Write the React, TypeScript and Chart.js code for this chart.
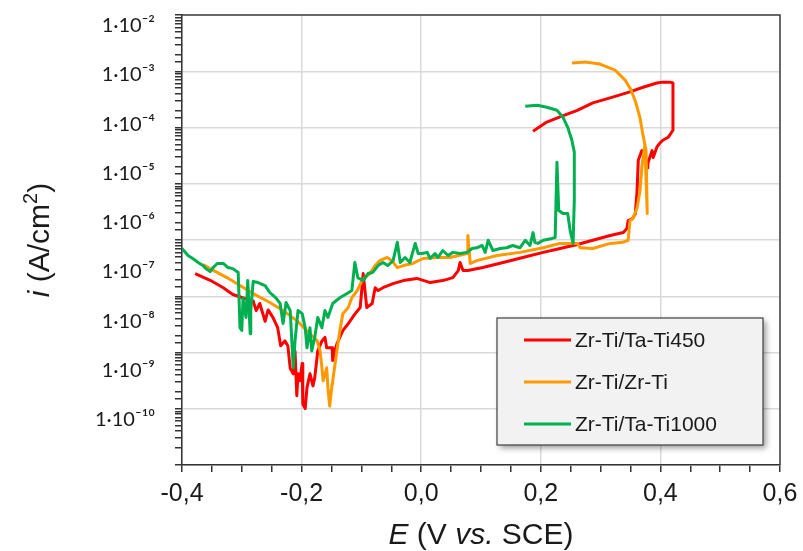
import React, { useEffect, useRef } from "react";
import { Chart, registerables } from "chart.js";

Chart.register(...registerables);

// ---------- data ----------
const seriesNames = ["Zr-Ti/Ta-Ti450", "Zr-Ti/Zr-Ti", "Zr-Ti/Ta-Ti1000"];
const seriesColors = ["#ff0000", "#ff9900", "#00b050"];

// Zr-Ti/Ta-Ti450 : potential (V vs. SCE) and current density (A/cm2)
const redE = [-0.378,-0.352,-0.331,-0.315,-0.295,-0.281,-0.276,-0.270,-0.261,-0.256,
  -0.248,-0.240,-0.235,-0.228,-0.223,-0.219,-0.214,-0.211,-0.208,-0.206,
  -0.203,-0.199,-0.198,-0.194,-0.191,-0.186,-0.181,-0.178,-0.173,-0.166,
  -0.161,-0.158,-0.149,-0.148,-0.141,-0.131,-0.122,-0.111,-0.102,-0.097,
  -0.091,-0.082,-0.077,-0.072,-0.064,-0.047,-0.030,-0.007,0.015,0.036,
  0.053,0.062,0.065,0.070,0.078,0.103,0.137,0.170,0.204,0.227,
  0.261,0.287,0.316,0.338,0.344,0.346,0.353,0.358,0.361,0.363,
  0.369,0.374,0.378,0.379,0.386,0.388,0.394,0.399,0.404,0.413,
  0.421,0.421,0.416,0.404,0.394,0.371,0.349,0.316,0.287,0.261,
  0.232,0.210,0.187];
const redI = [9.3e-8,6.7e-8,4.8e-8,3.5e-8,2.9e-8,2.6e-8,1.65e-8,2.3e-8,1.0e-8,1.7e-8,
  1.2e-8,7.4e-9,3.2e-9,4.0e-9,3.2e-9,1.1e-9,8.6e-10,2.5e-9,3.1e-10,8.6e-10,
  6.2e-10,1.4e-9,2.1e-10,1.7e-10,4.5e-10,8.6e-10,4.9e-10,7.2e-10,2.5e-9,4.0e-9,
  4.7e-9,2.9e-9,2.9e-9,1.6e-9,3.5e-9,6.5e-9,9.0e-9,1.4e-8,1.9e-8,9.3e-8,
  1.9e-8,2.3e-8,4.8e-8,4.2e-8,4.8e-8,5.8e-8,6.7e-8,7.4e-8,6.1e-8,6.7e-8,
  7.7e-8,1.07e-7,1.56e-7,1.07e-7,1.07e-7,1.23e-7,1.56e-7,1.97e-7,2.5e-7,2.9e-7,
  3.6e-7,4.4e-7,5.5e-7,6.3e-7,7.6e-7,1.1e-6,1.2e-6,1.5e-6,4.5e-6,1.85e-5,
  2.9e-5,2.6e-5,1.3e-5,1.6e-5,2.9e-5,2.1e-5,3.4e-5,4.1e-5,4.7e-5,5.4e-5,
  7.5e-5,6.8e-4,7.1e-4,7.1e-4,6.8e-4,5.6e-4,4.5e-4,3.4e-4,2.7e-4,1.9e-4,
  1.4e-4,1.1e-4,7.2e-5];

// Zr-Ti/Zr-Ti
const orangeE = [-0.365,-0.353,-0.325,-0.281,-0.253,-0.236,-0.224,-0.208,-0.186,-0.174,
  -0.169,-0.166,-0.164,-0.158,-0.156,-0.153,-0.149,-0.148,-0.141,-0.136,
  -0.131,-0.122,-0.116,-0.107,-0.099,-0.094,-0.086,-0.077,-0.069,-0.057,
  -0.049,-0.040,-0.030,-0.014,0.003,0.026,0.048,0.077,0.078,0.082,
  0.093,0.127,0.165,0.204,0.232,0.261,0.266,0.287,0.316,0.337,
  0.346,0.349,0.354,0.361,0.366,0.369,0.374,0.378,0.376,0.371,
  0.366,0.359,0.351,0.341,0.324,0.299,0.274,0.252];
const orangeI = [1.42e-7,1.17e-7,7.7e-8,3.65e-8,2.4e-8,1.8e-8,1.43e-8,1.03e-8,5.6e-9,4.0e-9,
  2.5e-9,1.14e-9,6.2e-10,1.14e-9,4.5e-10,1.9e-10,5.4e-10,6.2e-10,2.5e-9,6.5e-9,
  1.43e-8,1.9e-8,3.0e-8,4.2e-8,6.7e-8,7.7e-8,9.3e-8,1.35e-7,1.7e-7,1.97e-7,
  1.7e-7,1.23e-7,1.35e-7,1.49e-7,1.88e-7,1.97e-7,1.97e-7,2.37e-7,5.5e-7,1.49e-7,
  1.7e-7,2.16e-7,2.5e-7,3.1e-7,3.8e-7,3.8e-7,3.1e-7,3.0e-7,3.8e-7,4.0e-7,
  4.4e-7,1.1e-6,1.2e-6,2.0e-6,4.5e-6,1.33e-5,3.7e-5,1.54e-6,2.9e-5,5.9e-5,
  1.32e-4,2.7e-4,4.9e-4,7.8e-4,1.25e-3,1.65e-3,1.81e-3,1.73e-3];

// Zr-Ti/Ta-Ti1000
const greenE = [-0.400,-0.390,-0.382,-0.373,-0.365,-0.360,-0.353,-0.348,-0.341,-0.331,
  -0.323,-0.315,-0.306,-0.303,-0.300,-0.298,-0.293,-0.290,-0.286,-0.285,
  -0.281,-0.273,-0.261,-0.253,-0.243,-0.236,-0.231,-0.226,-0.219,-0.214,
  -0.211,-0.206,-0.199,-0.194,-0.191,-0.186,-0.183,-0.178,-0.173,-0.166,
  -0.161,-0.156,-0.148,-0.136,-0.124,-0.116,-0.111,-0.106,-0.097,-0.089,
  -0.081,-0.072,-0.064,-0.056,-0.047,-0.040,-0.035,-0.027,-0.019,-0.010,
  -0.005,0.001,0.010,0.015,0.023,0.028,0.036,0.045,0.053,0.065,
  0.077,0.085,0.093,0.102,0.107,0.112,0.120,0.132,0.143,0.153,
  0.165,0.174,0.182,0.187,0.190,0.195,0.204,0.219,0.224,0.227,
  0.230,0.237,0.245,0.249,0.254,0.256,0.256,0.252,0.245,0.237,
  0.227,0.210,0.194,0.174];
const greenI = [3.0e-7,2.16e-7,1.88e-7,1.56e-7,1.35e-7,1.17e-7,1.02e-7,1.23e-7,1.49e-7,1.49e-7,
  1.23e-7,1.17e-7,9.8e-8,7.4e-9,6.5e-9,2.9e-8,1.2e-8,6.7e-8,5.6e-9,1.65e-8,
  6.4e-8,6.1e-8,5.3e-8,3.8e-8,3.0e-8,2.3e-8,9.0e-9,2.4e-8,1.65e-8,1.14e-9,
  4.0e-9,1.65e-8,1.43e-8,7.4e-9,2.9e-9,7.4e-9,2.5e-9,4.7e-9,1.2e-8,7.4e-9,
  1.65e-8,1.2e-8,2.3e-8,3.0e-8,3.65e-8,4.2e-8,1.56e-7,7.7e-8,6.7e-8,9.3e-8,
  9.8e-8,1.35e-7,1.56e-7,1.35e-7,1.7e-7,4.0e-7,1.56e-7,1.97e-7,1.56e-7,3.8e-7,
  2.37e-7,2.37e-7,2.5e-7,1.88e-7,2.37e-7,1.97e-7,2.73e-7,2.16e-7,2.5e-7,2.37e-7,
  2.5e-7,3.0e-7,3.1e-7,3.45e-7,2.5e-7,4.4e-7,2.73e-7,3.0e-7,3.1e-7,3.45e-7,
  3.1e-7,4.4e-7,3.45e-7,6.3e-7,4.0e-7,3.8e-7,4.4e-7,4.8e-7,5.0e-7,1.68e-5,
  1.77e-6,1.54e-6,1.54e-6,7.0e-7,3.8e-7,2.84e-6,2.7e-5,4.7e-5,8.6e-5,1.38e-4,
  1.91e-4,2.2e-4,2.42e-4,2.31e-4];

// axes
const xMin = -0.4;
const xMax = 0.6;
const xMajorStep = 0.2;
const xMinorStep = 0.05;
const yLabelExponents = [-2, -3, -4, -5, -6, -7, -8, -9, -10];
const yGridMinExp = -10;
const yGridMaxExp = -2;
const yDataMinExp = -10.915;
const yDataMaxExp = -1.787;

// ---------- helpers ----------
const SUP: Record<string, string> = {
  "-": "\u207B", "0": "\u2070", "1": "\u00B9", "2": "\u00B2", "3": "\u00B3",
  "4": "\u2074", "5": "\u2075", "6": "\u2076", "7": "\u2077", "8": "\u2078", "9": "\u2079",
};
const sup = (s: string) => s.split("").map((c) => SUP[c] ?? c).join("");
const decadeOf = (v: number): number | null => {
  if (!(v > 0)) return null;
  const l = Math.log10(v);
  const r = Math.round(l);
  return Math.abs(l - r) < 1e-6 ? r : null;
};
const isMajorX = (v: number) => Math.abs(v / xMajorStep - Math.round(v / xMajorStep)) < 1e-6;
const fmtX = (v: number) => {
  const z = Math.abs(v) < 1e-9 ? 0 : v;
  return z.toFixed(1).replace(".", ",");
};
const toPoints = (xs: number[], ys: number[]) => xs.map((x, i) => ({ x, y: ys[i] }));
const noPad = (s: any) => {
  s.paddingTop = 0;
  s.paddingBottom = 0;
  s.paddingLeft = 0;
  s.paddingRight = 0;
};

type Part = { t: string; italic?: boolean; sup?: boolean };
const TITLE_FONT = "'Liberation Sans', Arial, sans-serif";
const xTitleParts: Part[] = [{ t: "E", italic: true }, { t: " (V " }, { t: "vs.", italic: true }, { t: " SCE)" }];
const yTitleParts: Part[] = [{ t: "i", italic: true }, { t: " (A/cm" }, { t: "2", sup: true }, { t: ")" }];

const partFont = (p: Part, size: number) =>
  `${p.italic ? "italic " : ""}${p.sup ? Math.round(size * 0.65) : size}px ${TITLE_FONT}`;

function drawRichCentered(ctx: CanvasRenderingContext2D, parts: Part[], size: number, cx: number, cy: number) {
  let w = 0;
  for (const p of parts) {
    ctx.font = partFont(p, size);
    w += ctx.measureText(p.t).width;
  }
  let x = cx - w / 2;
  const base = cy + size * 0.36;
  ctx.textBaseline = "alphabetic";
  ctx.textAlign = "left";
  for (const p of parts) {
    ctx.font = partFont(p, size);
    ctx.fillText(p.t, x, p.sup ? base - size * 0.4 : base);
    x += ctx.measureText(p.t).width;
  }
}

const framePlugin = {
  id: "frame",
  beforeDatasetsDraw(chart: any) {
    const { ctx, chartArea: a } = chart;
    ctx.save();
    ctx.strokeStyle = "#404040";
    ctx.lineWidth = 1.5;
    ctx.beginPath();
    ctx.moveTo(a.left, a.top);
    ctx.lineTo(a.right, a.top);
    ctx.lineTo(a.right, a.bottom);
    ctx.stroke();
    ctx.restore();
  },
};

const titlePlugin = {
  id: "richTitles",
  afterDraw(chart: any) {
    const { ctx, chartArea: a } = chart;
    ctx.save();
    ctx.fillStyle = "#1a1a1a";
    drawRichCentered(ctx, xTitleParts, 30, (a.left + a.right) / 2, a.bottom + 68);
    ctx.translate(38, (a.top + a.bottom) / 2);
    ctx.rotate(-Math.PI / 2);
    drawRichCentered(ctx, yTitleParts, 30, 0, 0);
    ctx.restore();
  },
};

const legendPlugin = {
  id: "boxLegend",
  afterDraw(chart: any) {
    const { ctx, chartArea: a } = chart;
    const w = 266, h = 127;
    const left = a.right - 283;
    const top = a.bottom - 147;
    ctx.save();
    ctx.shadowColor = "rgba(0,0,0,0.4)";
    ctx.shadowBlur = 6;
    ctx.shadowOffsetX = 3;
    ctx.shadowOffsetY = 3;
    ctx.fillStyle = "#f2f2f2";
    ctx.fillRect(left, top, w, h);
    ctx.shadowColor = "transparent";
    ctx.strokeStyle = "#404040";
    ctx.lineWidth = 1.2;
    ctx.strokeRect(left, top, w, h);
    chart.data.datasets.forEach((ds: any, i: number) => {
      const y = top + 22 + i * 42;
      ctx.strokeStyle = ds.borderColor;
      ctx.lineWidth = 3;
      ctx.beginPath();
      ctx.moveTo(left + 27, y);
      ctx.lineTo(left + 74, y);
      ctx.stroke();
      ctx.fillStyle = "#1a1a1a";
      ctx.font = `21px ${TITLE_FONT}`;
      ctx.textAlign = "left";
      ctx.textBaseline = "middle";
      ctx.fillText(ds.label, left + 78, y + 1);
    });
    ctx.restore();
  },
};

export default function App() {
  const ref = useRef<HTMLCanvasElement | null>(null);
  useEffect(() => {
    if (!ref.current) return;
    const seriesE = [redE, orangeE, greenE];
    const seriesI = [redI, orangeI, greenI];
    const drawOrder = [2, 1, 0];
    const chart = new Chart(ref.current, {
      type: "line",
      data: {
        datasets: seriesNames.map((name, i) => ({
          label: name,
          data: toPoints(seriesE[i], seriesI[i]),
          borderColor: seriesColors[i],
          backgroundColor: seriesColors[i],
          borderWidth: 3,
          pointRadius: 0,
          tension: 0,
          fill: false,
          order: drawOrder[i],
          xAxisID: "x",
          yAxisID: "y",
          borderJoinStyle: "round",
        })),
      },
      options: {
        animation: false,
        responsive: false,
        maintainAspectRatio: false,
        layout: { padding: { top: 15, right: 23, left: 0, bottom: 0 } },
        plugins: { legend: { display: false }, tooltip: { enabled: false } },
        scales: {
          x: {
            type: "linear",
            min: xMin,
            max: xMax,
            afterFit: (s: any) => { s.height = 86; noPad(s); },
            ticks: {
              stepSize: xMinorStep,
              autoSkip: false,
              maxRotation: 0,
              padding: 7,
              color: "#1a1a1a",
              font: { family: TITLE_FONT, size: 25 },
              callback: (v: any) => (isMajorX(Number(v)) ? fmtX(Number(v)) : ""),
            },
            grid: {
              color: (c: any) => (c.tick && isMajorX(c.tick.value) ? "#d9d9d9" : "rgba(0,0,0,0)"),
              lineWidth: 1.5,
              tickColor: "#333",
              tickLength: 7,
            },
            border: { color: "#333", width: 1.5 },
          },
          yg: {
            type: "logarithmic",
            position: "left",
            weight: 0,
            min: Math.pow(10, yGridMinExp),
            max: Math.pow(10, yGridMaxExp),
            afterFit: (s: any) => { s.width = 8; noPad(s); },
            ticks: { display: false, autoSkip: false },
            grid: {
              color: (c: any) => (c.tick && decadeOf(c.tick.value) !== null ? "#d9d9d9" : "rgba(0,0,0,0)"),
              lineWidth: 1.5,
              tickColor: "#333",
              tickLength: 7,
            },
            border: { color: "#333", width: 1.5 },
          },
          y: {
            type: "logarithmic",
            position: "left",
            weight: 1,
            min: Math.pow(10, yDataMinExp),
            max: Math.pow(10, yDataMaxExp),
            afterFit: (s: any) => { s.width = 174; noPad(s); },
            ticks: {
              autoSkip: false,
              padding: 19,
              color: "#1a1a1a",
              font: { family: "Lato, 'Liberation Sans', sans-serif", size: 20 },
              callback: (v: any) => {
                const d = decadeOf(Number(v));
                return d !== null && yLabelExponents.includes(d) ? "1\u00B710" + sup(String(d)) : "";
              },
            },
            grid: { display: false, drawTicks: false },
            border: { display: false },
          },
        },
      },
      plugins: [framePlugin, titlePlugin, legendPlugin],
    } as any);
    return () => chart.destroy();
  }, []);
  return (
    <div style={{ position: "fixed", left: 0, top: 0, width: 803, height: 551, background: "#fff" }}>
      <canvas ref={ref} width={803} height={551} style={{ width: 803, height: 551 }} />
    </div>
  );
}
